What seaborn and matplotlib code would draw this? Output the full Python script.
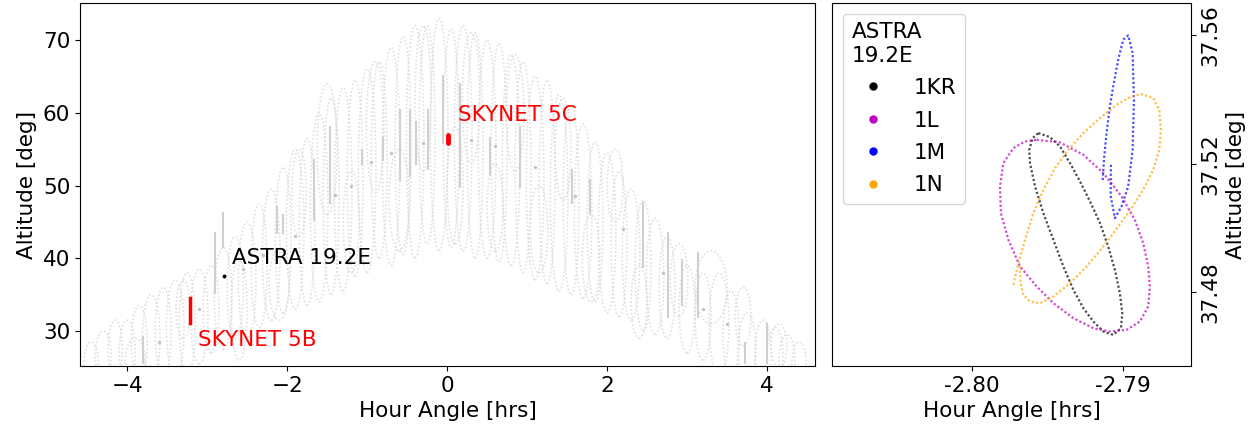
"""
Satellite hour angle / altitude tracks, with a zoom on ASTRA 19.2E
"""
import matplotlib
matplotlib.use('Agg')
import matplotlib.pyplot as plt
from matplotlib.patches import Ellipse
from matplotlib.lines import Line2D
import pandas as pd
import seaborn as sns

plt.rcParams['font.family'] = ['DejaVu Sans']
FS = 15.5

# background loops of the other satellites: centre (hrs, deg), width (hrs), height (deg)
loop_ha = [-4.45, -4.3, -4.15, -4.0, -3.85, -3.7, -3.55, -3.4, -3.25, -3.1, -2.95, -2.8,
           -2.65, -2.5, -2.35, -2.2, -2.05, -1.9, -1.75, -1.6, -1.45, -1.3, -1.15, -1.0,
           -0.85, -0.7, -0.55, -0.4, -0.25, -0.1, 0.05, 0.2, 0.35, 0.5, 0.65, 0.8, 0.95,
           1.1, 1.25, 1.4, 1.55, 1.7, 1.85, 2.0, 2.15, 2.3, 2.45, 2.6, 2.75, 3.0, 3.2,
           3.4, 3.55, 3.75, 3.95, 4.1, 4.25, 4.4,
           -3.9, -3.3, -2.6, -2.1, -1.85, -1.5, -1.2, -0.9, -0.6, -0.3, 0.1, 0.3, 0.6,
           0.85, 1.15, 1.45, 1.8, 2.1, 2.4, 2.9, 3.3, 3.7, 4.15]
loop_alt = [25.5, 26.5, 27.5, 27.0, 28.5, 29.0, 30.0, 30.5, 31.0, 32.0, 33.0, 34.5,
            36.0, 37.0, 39.0, 40.5, 42.5, 44.0, 45.0, 47.0, 48.5, 49.5, 51.0, 52.0,
            53.5, 54.0, 55.5, 56.0, 57.0, 57.0, 56.5, 56.5, 55.5, 55.0, 54.5, 53.5, 52.5,
            51.0, 50.5, 49.0, 48.0, 46.5, 45.0, 43.5, 42.0, 40.5, 39.0, 37.5, 36.0, 33.0, 32.0,
            31.0, 29.5, 27.5, 27.0, 26.5, 26.0, 25.5,
            26.0, 33.0, 33.0, 36.5, 49.0, 55.0, 45.0, 58.0, 48.0, 62.0, 50.0, 62.0, 47.0,
            60.0, 44.0, 55.0, 40.0, 50.0, 34.0, 37.0, 36.0, 32.0, 28.0]
loop_w = [0.18, 0.2, 0.18, 0.2, 0.2, 0.22, 0.2, 0.22, 0.2, 0.22, 0.2, 0.22,
          0.2, 0.22, 0.2, 0.22, 0.2, 0.22, 0.2, 0.22, 0.2, 0.22, 0.2, 0.22,
          0.2, 0.22, 0.2, 0.22, 0.2, 0.22, 0.2, 0.22, 0.2, 0.22, 0.2, 0.22, 0.2,
          0.22, 0.2, 0.22, 0.2, 0.22, 0.2, 0.22, 0.2, 0.22, 0.2, 0.22, 0.2, 0.2, 0.2,
          0.25, 0.2, 0.22, 0.2, 0.2, 0.2, 0.18,
          0.25, 0.18, 0.2, 0.25, 0.18, 0.25, 0.2, 0.22, 0.25, 0.2, 0.2, 0.22, 0.2,
          0.22, 0.22, 0.2, 0.22, 0.2, 0.2, 0.22, 0.4, 0.2, 0.2]
loop_h = [6, 7, 8, 9, 10, 12, 12, 13, 14, 13, 12, 14,
          14, 16, 17, 18, 20, 22, 23, 26, 27, 28, 27, 28,
          27, 30, 30, 32, 30, 32, 30, 31, 31, 30, 30, 29, 29,
          28, 28, 27, 26, 24, 22, 22, 20, 18, 18, 16, 14, 12, 12,
          14, 12, 10, 9, 8, 7, 6,
          6, 8, 14, 10, 12, 18, 14, 18, 14, 20, 16, 18, 12,
          16, 12, 14, 12, 10, 10, 10, 10, 8, 6]

# darker short vertical track pieces
seg_ha = [-0.59, -0.46, -0.39, -0.24, -0.8, -1.06, -2.13, -2.05, -1.67, -1.46, -2.9, -2.8,
          -3.8, 2.45, 2.76, 2.94, 3.14, 3.73, 4.0, 0.91, 1.56, 1.79, 0.16, 0.54, -0.05]
seg_lo = [50.8, 51.3, 53.0, 52.3, 53.5, 53.0, 43.5, 43.5, 45.3, 47.6, 35.2, 41.6,
          25.6, 38.8, 31.9, 33.6, 32.0, 25.6, 25.6, 49.8, 47.6, 46.2, 49.8, 51.6, 55.9]
seg_hi = [60.4, 60.4, 58.8, 60.4, 56.5, 54.9, 47.0, 46.0, 53.5, 58.0, 43.5, 46.2,
          29.2, 47.6, 43.5, 39.8, 40.7, 28.3, 31.0, 58.0, 52.1, 50.8, 64.0, 56.5, 65.0]

# small gray dots along the geostationary arc
dot_ha = [-3.6, -3.1, -2.55, -2.3, -1.9, -1.4, -1.2, -0.95, -0.7, -0.3, 0.3, 0.6,
          1.1, 1.6, 2.2, 2.7, 3.2, 3.5]
dot_alt = [28.5, 33.0, 38.5, 40.5, 43.0, 48.7, 50.0, 53.2, 54.5, 55.8, 56.2, 55.5,
           52.5, 48.5, 44.0, 38.0, 33.0, 31.0]

# highlighted satellites
astra_ha, astra_alt = -2.795, 37.52
skynet5b_ha = [-3.21, -3.21]
skynet5b_alt = [31.1, 34.5]
skynet5c_ha = [0.01, 0.01]
skynet5c_alt = [55.8, 57.0]

# ASTRA 19.2E zoom: one loop per satellite
kr_ha = [-2.79560, -2.79483, -2.79417, -2.79351, -2.79285, -2.79219, -2.79153, -2.79099,
         -2.79055, -2.79022, -2.79006, -2.79015, -2.79066, -2.79131, -2.79197, -2.79263,
         -2.79329, -2.79395, -2.79461, -2.79527, -2.79582, -2.79615, -2.79620, -2.79598,
         -2.79560]
kr_alt = [37.52956, 37.52831, 37.52540, 37.52021, 37.51449, 37.50826, 37.50150, 37.49423,
          37.48696, 37.47968, 37.47345, 37.46877, 37.46670, 37.46773, 37.47085, 37.47501,
          37.48072, 37.48800, 37.49631, 37.50462, 37.51293, 37.52021, 37.52436, 37.52800,
          37.52956]
l_ha = [-2.79571, -2.79417, -2.79263, -2.79131, -2.79011, -2.78923, -2.78868, -2.78835,
        -2.78824, -2.78835, -2.78890, -2.78978, -2.79088, -2.79197, -2.79329, -2.79461,
        -2.79571, -2.79681, -2.79758, -2.79807, -2.79813, -2.79791, -2.79725, -2.79648,
        -2.79571]
l_alt = [37.52748, 37.52665, 37.52281, 37.51709, 37.50982, 37.50254, 37.49527, 37.48800,
         37.48176, 37.47553, 37.47085, 37.46825, 37.46773, 37.46877, 37.47189, 37.47657,
         37.48176, 37.48800, 37.49631, 37.50462, 37.51293, 37.52021, 37.52488, 37.52696,
         37.52748]
m_ha = [-2.79081, -2.79083, -2.79055, -2.79011, -2.78967, -2.78938, -2.78929, -2.78938,
        -2.78967, -2.79000, -2.79033, -2.79066, -2.79088, -2.79110, -2.79127, -2.79136]
m_alt = [37.51969, 37.51000, 37.50306, 37.50670, 37.51293, 37.52436, 37.53995, 37.55450,
         37.56000, 37.55865, 37.55242, 37.54411, 37.53787, 37.52956, 37.52125, 37.51449]
n_ha = [-2.79725, -2.79692, -2.79648, -2.79593, -2.79527, -2.79450, -2.79362, -2.79263,
        -2.79153, -2.79044, -2.78945, -2.78879, -2.78802, -2.78762, -2.78751, -2.78762,
        -2.78802, -2.78868, -2.78945, -2.79033, -2.79131, -2.79241, -2.79351, -2.79461,
        -2.79549, -2.79615, -2.79659, -2.79677, -2.79681]
n_alt = [37.48228, 37.48904, 37.49631, 37.50462, 37.51190, 37.51865, 37.52436, 37.52956,
         37.53424, 37.53839, 37.54099, 37.54172, 37.54047, 37.53683, 37.53060, 37.52436,
         37.51813, 37.51190, 37.50618, 37.50047, 37.49423, 37.48800, 37.48280, 37.47864,
         37.47657, 37.47709, 37.47916, 37.48280, 37.48800]

zoom_names = ['1KR', '1L', '1M', '1N']
zoom_colors = ['k', 'm', 'b', 'orange']

fig = plt.figure(figsize=(12.56, 4.29), dpi=100)
ax1 = fig.add_axes([0.0637, 0.1469, 0.5852, 0.8462])
ax2 = fig.add_axes([0.6624, 0.1469, 0.2858, 0.8462])

# --- left: all satellites ---
for i in range(len(loop_ha)):
    ax1.add_patch(Ellipse((loop_ha[i], loop_alt[i]), loop_w[i], loop_h[i], fill=False,
                          ec='#d8d8d8', ls=(0, (1, 1.3)), lw=1.2, alpha=0.8))
for i in range(len(seg_ha)):
    ax1.plot([seg_ha[i], seg_ha[i]], [seg_lo[i], seg_hi[i]], color='#d0d0d0', lw=1.5)
sns.scatterplot(x=dot_ha, y=dot_alt, ax=ax1, color='#c4c4c4', s=6, linewidth=0)

ax1.plot(skynet5b_ha, skynet5b_alt, color='red', lw=2.5)
ax1.plot(skynet5c_ha, skynet5c_alt, color='red', lw=3.5, solid_capstyle='round')
sns.scatterplot(x=[astra_ha], y=[astra_alt], ax=ax1, color='k', s=8, linewidth=0)

ax1.text(-2.69, 40.0, 'ASTRA 19.2E', fontsize=FS, color='k', va='center')
ax1.text(-3.12, 28.8, 'SKYNET 5B', fontsize=FS, color='red', va='center')
ax1.text(0.13, 59.7, 'SKYNET 5C', fontsize=FS, color='red', va='center')

ax1.set_xlim(-4.59, 4.6)
ax1.set_ylim(25.2, 75.1)
ax1.set_xticks([-4, -2, 0, 2, 4])
ax1.set_yticks([30, 40, 50, 60, 70])
ax1.set_xlabel('Hour Angle [hrs]', fontsize=FS)
ax1.set_ylabel('Altitude [deg]', fontsize=FS)
ax1.tick_params(labelsize=FS)

# --- right: zoom on ASTRA 19.2E ---
zoom_df = pd.concat([
    pd.DataFrame({'ha': kr_ha, 'alt': kr_alt, 'sat': '1KR'}),
    pd.DataFrame({'ha': l_ha, 'alt': l_alt, 'sat': '1L'}),
    pd.DataFrame({'ha': m_ha, 'alt': m_alt, 'sat': '1M'}),
    pd.DataFrame({'ha': n_ha, 'alt': n_alt, 'sat': '1N'}),
])
for name, col in zip(zoom_names, zoom_colors):
    sub = zoom_df[zoom_df['sat'] == name]
    sns.lineplot(data=sub, x='ha', y='alt', ax=ax2, sort=False, estimator=None,
                 color=col, lw=1.6, ls=(0, (1, 1)), alpha=0.7)

handles = [Line2D([0], [0], marker='o', ls='', color=c, markersize=5) for c in zoom_colors]
ax2.legend(handles, zoom_names, title='ASTRA\n19.2E', loc='upper left',
           fontsize=FS, title_fontsize=FS, handletextpad=0.9, labelspacing=0.58,
           frameon=True, alignment='left')

ax2.set_xlim(-2.80922, -2.78553)
ax2.set_ylim(37.457, 37.5701)
ax2.set_xticks([-2.80, -2.79])
ax2.set_xticklabels(['-2.80', '-2.79'])
ax2.set_yticks([37.48, 37.52, 37.56])
ax2.set_yticklabels(['37.48', '37.52', '37.56'])
ax2.yaxis.tick_right()
ax2.yaxis.set_label_position('right')
ax2.tick_params(labelsize=FS)
plt.setp(ax2.get_yticklabels(), rotation=90, va='center')
ax2.set_xlabel('Hour Angle [hrs]', fontsize=FS)
ax2.set_ylabel('Altitude [deg]', fontsize=FS)

fig.savefig('out.png', dpi=100)
